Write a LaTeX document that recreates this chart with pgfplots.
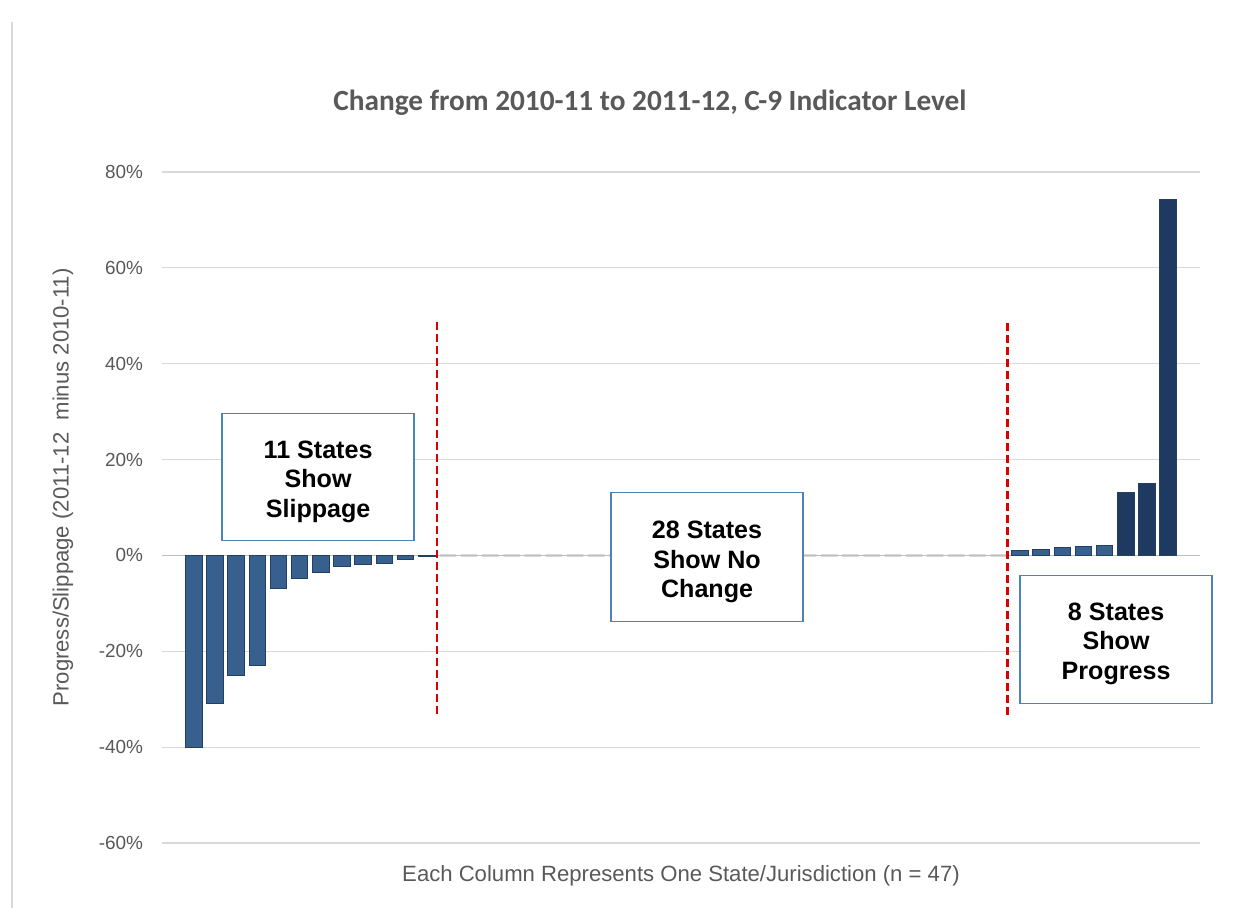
\documentclass[border=0pt]{standalone}
\usepackage{pgfplots}
\pgfplotsset{compat=1.18}
\usepackage{pgfplotstable}
\usepackage{fontspec}
\setmainfont{Liberation Sans}
\newfontfamily\titlefont{Carlito}
\definecolor{gridc}{HTML}{D9D9D9}
\definecolor{axisc}{HTML}{BFBFBF}
\definecolor{labelc}{HTML}{595959}
\definecolor{barA}{HTML}{37608F}
\definecolor{barB}{HTML}{1E3A60}
\definecolor{edgeA}{HTML}{22405F}
\definecolor{boxc}{HTML}{4F81BD}
\definecolor{redl}{HTML}{D80000}

\pgfplotstableread{
x y
0 -40
1 -31
2 -25
3 -23
4 -7
5 -4.8
6 -3.6
7 -2.3
8 -1.8
9 -1.7
10 -0.9
11 -0.2
39 1.0
40 1.2
41 1.7
42 1.9
43 2.1
}\smallbars
\pgfplotstableread{
x y
44 13.1
45 15.0
46 74.2
}\bigbars
\pgfplotstableread{
x y
12 0
13 0
14 0
15 0
16 0
17 0
18 0
19 0
20 0
21 0
22 0
23 0
24 0
25 0
26 0
27 0
28 0
29 0
30 0
31 0
32 0
33 0
34 0
35 0
36 0
37 0
38 0
}\zerobars

\begin{document}
\begin{tikzpicture}[x=1bp,y=1bp]
\useasboundingbox (0,0) rectangle (626,454);
\draw[gridc, line width=0.6bp] (6,0) -- (6,443);
\begin{axis}[
  at={(81bp,32.5bp)}, anchor=south west,
  scale only axis, width=519bp, height=335.5bp,
  xmin=-1.5, xmax=47.5, ymin=-60, ymax=80,
  axis line style={draw=none},
  xtick=\empty,
  ytick={-60,-40,-20,0,20,40,60,80},
  yticklabels={-60\%,-40\%,-20\%,0\%,20\%,40\%,60\%,80\%},
  ymajorgrids, grid style={gridc, line width=0.6bp},
  major tick length=0pt,
  yticklabel style={font=\fontsize{9.5}{11}\selectfont, text=labelc, xshift=-6bp},
  xlabel={Each Column Represents One State/Jurisdiction (n = 47)},
  xlabel style={at={(rel axis cs:0.5,0)}, anchor=center, yshift=-16.5bp,
    font=\fontsize{11.1}{13}\selectfont, text=labelc},
  ylabel={Progress/Slippage (2011-12\ \ minus 2010-11)},
  ylabel style={at={(rel axis cs:-0.0954,0.53)}, anchor=center,
    font=\fontsize{11.1}{13}\selectfont, text=labelc},
  clip=false,
  ybar, bar width=0.78, bar shift=0pt,
]
\addplot[fill=gray!30, draw=gray!30, line width=1.2bp] table[x=x,y=y] {\zerobars};
\draw[axisc, line width=0.8bp] (axis cs:-1.5,0) -- (axis cs:47.5,0);
\addplot[fill=barA, draw=edgeA, line width=0.5bp] table[x=x,y=y] {\smallbars};
\addplot[fill=barB, draw=edgeA, line width=0.5bp] table[x=x,y=y] {\bigbars};
\draw[redl, line width=1.3bp, dash pattern=on 4bp off 2bp] (axis cs:11.48,48.8) -- (axis cs:11.48,-33.4);
\draw[redl, line width=1.3bp, dash pattern=on 4bp off 2bp] (axis cs:38.4,48.4) -- (axis cs:38.4,-33.8);
\node[draw=boxc, line width=0.75bp, fill=white, minimum width=96bp, minimum height=63.5bp] at (axis cs:5.87,16.4) {};
\node[align=center, font=\bfseries\fontsize{12.6}{14.75}\selectfont, yshift=-2.5bp] at (axis cs:5.87,16.4) {11 States\\Show\\Slippage};
\node[draw=boxc, line width=0.75bp, fill=white, minimum width=96bp, minimum height=64.5bp] at (axis cs:24.23,-0.3) {};
\node[align=center, font=\bfseries\fontsize{12.6}{14.75}\selectfont, yshift=-2.7bp] at (axis cs:24.23,-0.3) {28 States\\Show No\\Change};
\node[draw=boxc, line width=0.75bp, fill=white, minimum width=96bp, minimum height=64bp] at (axis cs:43.54,-17.5) {};
\node[align=center, font=\bfseries\fontsize{12.6}{14.75}\selectfont, yshift=-2.3bp] at (axis cs:43.54,-17.5) {8 States\\Show\\Progress};
\end{axis}
\node[font=\titlefont\bfseries\fontsize{14.7}{17}\selectfont, text=labelc] at (325,402.5) {Change from 2010-11 to 2011-12, C-9 Indicator Level};
\end{tikzpicture}
\end{document}
